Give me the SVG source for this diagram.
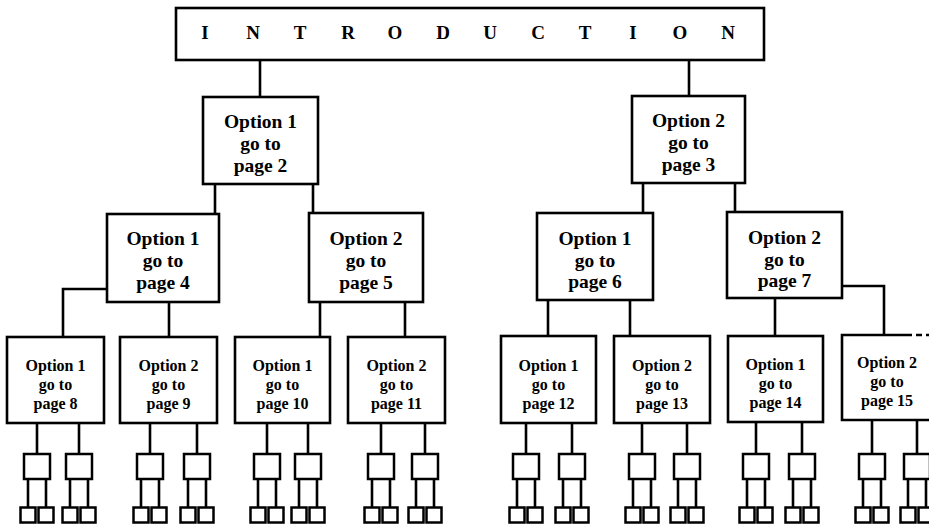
<svg xmlns="http://www.w3.org/2000/svg" width="929" height="524" viewBox="0 0 929 524">
<style>
.b{fill:#fff;stroke:#000;stroke-width:2.6}
.s{fill:#fff;stroke:#000;stroke-width:2.5}
.c{fill:none;stroke:#000;stroke-width:2.6}
text{font-family:"Liberation Serif","Times New Roman",serif;font-weight:bold;fill:#000;text-anchor:middle}
.t1{font-size:19.5px}
.t3{font-size:16px}
.ti{font-size:19px}
</style>
<rect width="929" height="524" fill="#fff"/>
<g id="connectors">
<path class="c" d="M260 60V97M689 60V96M215 184V214M313 184V213M643 183V213M735 183V212M106 289H63V337M169 302V337M320 302V337M405 302V337M548 300V336M630 300V336M775 298V336M842 286H884V335"/>
<path class="c" d="M37 423V454M79 423V454M150 423V454M197 423V454M267 423V454M308 423V454M381 423V454M425 423V454M526 423V454M572 423V454M642 423V454M687 423V454M756 422V454M802 422V454M872 420V454M917 420V454"/>
<path class="c" d="M28 479V508M46 479V508M70 479V508M88 479V508M141 479V508M159 479V508M188 479V508M206 479V508M258 479V508M276 479V508M299 479V508M317 479V508M372 479V508M390 479V508M416 479V508M434 479V508M517 479V508M535 479V508M563 479V508M581 479V508M633 479V508M651 479V508M678 479V508M696 479V508M747 479V508M765 479V508M793 479V508M811 479V508M863 479V508M881 479V508M908 479V508M926 479V508"/>
</g>
<g id="intro"><rect class="b" x="176" y="8" width="588" height="52"/>
<text class="ti" y="39"><tspan x="205">I</tspan><tspan x="253">N</tspan><tspan x="300">T</tspan><tspan x="348">R</tspan><tspan x="395">O</tspan><tspan x="443">D</tspan><tspan x="490">U</tspan><tspan x="538">C</tspan><tspan x="585">T</tspan><tspan x="633">I</tspan><tspan x="680">O</tspan><tspan x="728">N</tspan></text></g>
<g id="p2"><rect class="b" x="203" y="97" width="115" height="87"/><text class="t1" x="260.5" y="128">Option 1</text><text class="t1" x="260.5" y="150">go to</text><text class="t1" x="260.5" y="172">page 2</text></g>
<g id="p3"><rect class="b" x="632" y="96" width="113" height="87"/><text class="t1" x="688.5" y="127">Option 2</text><text class="t1" x="688.5" y="149">go to</text><text class="t1" x="688.5" y="171">page 3</text></g>
<g id="p4"><rect class="b" x="107" y="214" width="112" height="88"/><text class="t1" x="163" y="245">Option 1</text><text class="t1" x="163" y="267">go to</text><text class="t1" x="163" y="289">page 4</text></g>
<g id="p5"><rect class="b" x="309" y="213" width="114" height="89"/><text class="t1" x="366" y="245">Option 2</text><text class="t1" x="366" y="267">go to</text><text class="t1" x="366" y="289">page 5</text></g>
<g id="p6"><rect class="b" x="537" y="213" width="116" height="87"/><text class="t1" x="595" y="245">Option 1</text><text class="t1" x="595" y="267">go to</text><text class="t1" x="595" y="288">page 6</text></g>
<g id="p7"><rect class="b" x="727" y="212" width="115" height="86"/><text class="t1" x="784.5" y="244">Option 2</text><text class="t1" x="784.5" y="266">go to</text><text class="t1" x="784.5" y="287">page 7</text></g>
<g id="p8"><rect class="b" x="7" y="337" width="97" height="86"/><text class="t3" x="55.5" y="371">Option 1</text><text class="t3" x="55.5" y="390">go to</text><text class="t3" x="55.5" y="409">page 8</text></g>
<g id="p9"><rect class="b" x="120" y="337" width="97" height="86"/><text class="t3" x="168.5" y="371">Option 2</text><text class="t3" x="168.5" y="390">go to</text><text class="t3" x="168.5" y="409">page 9</text></g>
<g id="p10"><rect class="b" x="235" y="337" width="95" height="86"/><text class="t3" x="282.5" y="371">Option 1</text><text class="t3" x="282.5" y="390">go to</text><text class="t3" x="282.5" y="409">page 10</text></g>
<g id="p11"><rect class="b" x="348" y="337" width="97" height="86"/><text class="t3" x="396.5" y="371">Option 2</text><text class="t3" x="396.5" y="390">go to</text><text class="t3" x="396.5" y="409">page 11</text></g>
<g id="p12"><rect class="b" x="501" y="336" width="95" height="87"/><text class="t3" x="548.5" y="371">Option 1</text><text class="t3" x="548.5" y="390">go to</text><text class="t3" x="548.5" y="409">page 12</text></g>
<g id="p13"><rect class="b" x="614" y="336" width="96" height="87"/><text class="t3" x="662" y="371">Option 2</text><text class="t3" x="662" y="390">go to</text><text class="t3" x="662" y="409">page 13</text></g>
<g id="p14"><rect class="b" x="728" y="336" width="95" height="86"/><text class="t3" x="775.5" y="370">Option 1</text><text class="t3" x="775.5" y="389">go to</text><text class="t3" x="775.5" y="408">page 14</text></g>
<g id="p15"><path class="c" d="M906 335H842V420H929"/><path class="c" d="M906 335H929" stroke-dasharray="6 4"/><text class="t3" x="887" y="368">Option 2</text><text class="t3" x="887" y="387">go to</text><text class="t3" x="887" y="406">page 15</text></g>
<g id="sub-p8">
<g id="p8a"><rect class="s" x="24" y="454" width="26" height="25"/></g><g id="p8a1"><rect class="s" x="20.5" y="507.5" width="15" height="15"/></g><g id="p8a2"><rect class="s" x="38.5" y="507.5" width="15" height="15"/></g>
<g id="p8b"><rect class="s" x="66" y="454" width="26" height="25"/></g><g id="p8b1"><rect class="s" x="62.5" y="507.5" width="15" height="15"/></g><g id="p8b2"><rect class="s" x="80.5" y="507.5" width="15" height="15"/></g>
</g>
<g id="sub-p9">
<g id="p9a"><rect class="s" x="137" y="454" width="26" height="25"/></g><g id="p9a1"><rect class="s" x="133.5" y="507.5" width="15" height="15"/></g><g id="p9a2"><rect class="s" x="151.5" y="507.5" width="15" height="15"/></g>
<g id="p9b"><rect class="s" x="184" y="454" width="26" height="25"/></g><g id="p9b1"><rect class="s" x="180.5" y="507.5" width="15" height="15"/></g><g id="p9b2"><rect class="s" x="198.5" y="507.5" width="15" height="15"/></g>
</g>
<g id="sub-p10">
<g id="p10a"><rect class="s" x="254" y="454" width="26" height="25"/></g><g id="p10a1"><rect class="s" x="250.5" y="507.5" width="15" height="15"/></g><g id="p10a2"><rect class="s" x="268.5" y="507.5" width="15" height="15"/></g>
<g id="p10b"><rect class="s" x="295" y="454" width="26" height="25"/></g><g id="p10b1"><rect class="s" x="291.5" y="507.5" width="15" height="15"/></g><g id="p10b2"><rect class="s" x="309.5" y="507.5" width="15" height="15"/></g>
</g>
<g id="sub-p11">
<g id="p11a"><rect class="s" x="368" y="454" width="26" height="25"/></g><g id="p11a1"><rect class="s" x="364.5" y="507.5" width="15" height="15"/></g><g id="p11a2"><rect class="s" x="382.5" y="507.5" width="15" height="15"/></g>
<g id="p11b"><rect class="s" x="412" y="454" width="26" height="25"/></g><g id="p11b1"><rect class="s" x="408.5" y="507.5" width="15" height="15"/></g><g id="p11b2"><rect class="s" x="426.5" y="507.5" width="15" height="15"/></g>
</g>
<g id="sub-p12">
<g id="p12a"><rect class="s" x="513" y="454" width="26" height="25"/></g><g id="p12a1"><rect class="s" x="509.5" y="507.5" width="15" height="15"/></g><g id="p12a2"><rect class="s" x="527.5" y="507.5" width="15" height="15"/></g>
<g id="p12b"><rect class="s" x="559" y="454" width="26" height="25"/></g><g id="p12b1"><rect class="s" x="555.5" y="507.5" width="15" height="15"/></g><g id="p12b2"><rect class="s" x="573.5" y="507.5" width="15" height="15"/></g>
</g>
<g id="sub-p13">
<g id="p13a"><rect class="s" x="629" y="454" width="26" height="25"/></g><g id="p13a1"><rect class="s" x="625.5" y="507.5" width="15" height="15"/></g><g id="p13a2"><rect class="s" x="643.5" y="507.5" width="15" height="15"/></g>
<g id="p13b"><rect class="s" x="674" y="454" width="26" height="25"/></g><g id="p13b1"><rect class="s" x="670.5" y="507.5" width="15" height="15"/></g><g id="p13b2"><rect class="s" x="688.5" y="507.5" width="15" height="15"/></g>
</g>
<g id="sub-p14">
<g id="p14a"><rect class="s" x="743" y="454" width="26" height="25"/></g><g id="p14a1"><rect class="s" x="739.5" y="507.5" width="15" height="15"/></g><g id="p14a2"><rect class="s" x="757.5" y="507.5" width="15" height="15"/></g>
<g id="p14b"><rect class="s" x="789" y="454" width="26" height="25"/></g><g id="p14b1"><rect class="s" x="785.5" y="507.5" width="15" height="15"/></g><g id="p14b2"><rect class="s" x="803.5" y="507.5" width="15" height="15"/></g>
</g>
<g id="sub-p15">
<g id="p15a"><rect class="s" x="859" y="454" width="26" height="25"/></g><g id="p15a1"><rect class="s" x="855.5" y="507.5" width="15" height="15"/></g><g id="p15a2"><rect class="s" x="873.5" y="507.5" width="15" height="15"/></g>
<g id="p15b"><rect class="s" x="904" y="454" width="26" height="25"/></g><g id="p15b1"><rect class="s" x="900.5" y="507.5" width="15" height="15"/></g><g id="p15b2"><rect class="s" x="918.5" y="507.5" width="15" height="15"/></g>
</g>
</svg>
